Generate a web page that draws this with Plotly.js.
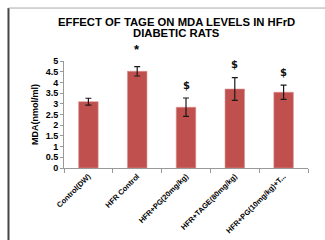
<!DOCTYPE html>
<html>
<head>
<meta charset="utf-8">
<script src="https://cdn.plot.ly/plotly-3.0.1.min.js"></script>
<style>
html,body{margin:0;padding:0;background:#fff;}
#chart{width:325px;height:240px;}
</style>
</head>
<body>
<div id="chart"></div>
<script>
const categories = ["Control(DW)", "HFR Control", "HFR+PG(20mg/kg)", "HFR+TAGE(80mg/kg)", "HFR+PG(10mg/kg)+T..."];
const mdaValues = [3.10, 4.52, 2.84, 3.69, 3.54];
const mdaErrors = [0.16, 0.22, 0.43, 0.53, 0.33];
const sigMarks = ["", "*", "$", "$", "$"];
const titleLines = ["EFFECT OF TAGE ON MDA LEVELS IN HFrD", "DIABETIC RATS"];
const yTickVals = [0, 0.5, 1, 1.5, 2, 2.5, 3, 3.5, 4, 4.5, 5];
const yTickText = ["0", "0.5", "1", "1.5", "2", "2.5", "3", "3.5", "4", "4.5", "5"];

const font = "Liberation Sans, Arial, sans-serif";

const trace = {
  type: "bar",
  x: categories,
  y: mdaValues,
  marker: {color: "#C0504D", line: {color: "#D99694", width: 0.6}},
  error_y: {type: "data", array: mdaErrors, visible: true, color: "#1a1a1a", thickness: 1.2, width: 3},
  hoverinfo: "none"
};

const annotations = [];
sigMarks.forEach((m, i) => {
  if (!m) return;
  const star = m === "*";
  annotations.push({
    x: categories[i], y: mdaValues[i] + mdaErrors[i],
    xref: "x", yref: "y",
    text: m, showarrow: false,
    yanchor: "middle", yshift: star ? 17 : 13,
    font: star ? {family: font, size: 13, color: "#000000", weight: "bold"}
               : {family: "DejaVu Sans", size: 10, color: "#111111", weight: "bold"}
  });
});
titleLines.forEach((t, i) => {
  annotations.push({
    x: 0.46, y: 1.366 - i * 0.103, xref: "paper", yref: "paper",
    text: "<b>" + t + "</b>", showarrow: false,
    xanchor: "center", yanchor: "middle",
    font: {family: font, size: 11.3, color: "#000000"}
  });
});

const layout = {
  width: 325, height: 240,
  margin: {l: 64, r: 17, t: 61, b: 72, pad: 0},
  paper_bgcolor: "#fff", plot_bgcolor: "#fff",
  showlegend: false,
  bargap: 0.6,
  xaxis: {
    type: "category",
    tickangle: -45,
    tickfont: {family: font, size: 7.5, color: "#000", weight: "bold"},
    showline: true, linecolor: "#999", linewidth: 1,
    ticks: "outside", ticklen: 4, tickcolor: "#999",
    tickson: "boundaries",
    showgrid: false, zeroline: false,
    fixedrange: true
  },
  yaxis: {
    range: [0, 5],
    tickvals: yTickVals, ticktext: yTickText,
    tickfont: {family: font, size: 9, color: "#000", weight: "bold"},
    showline: true, linecolor: "#999", linewidth: 1,
    ticks: "outside", ticklen: 3, tickcolor: "#999",
    showgrid: false, zeroline: false,
    title: {text: "<b>MDA(nmol/ml)</b>", font: {family: font, size: 9, color: "#000"}, standoff: 5},
    fixedrange: true
  },
  shapes: [
    {type: "line", xref: "paper", yref: "paper", x0: -0.2275, x1: -0.2275, y0: -0.7, y1: 1.495, line: {color: "#444", width: 2}},
    {type: "line", xref: "paper", yref: "paper", x0: -0.2275, x1: 1.2, y0: 1.495, y1: 1.495, line: {color: "#aaa", width: 1}}
  ],
  annotations: annotations
};

Plotly.newPlot("chart", [trace], layout, {staticPlot: true, displayModeBar: false});
</script>
</body>
</html>
